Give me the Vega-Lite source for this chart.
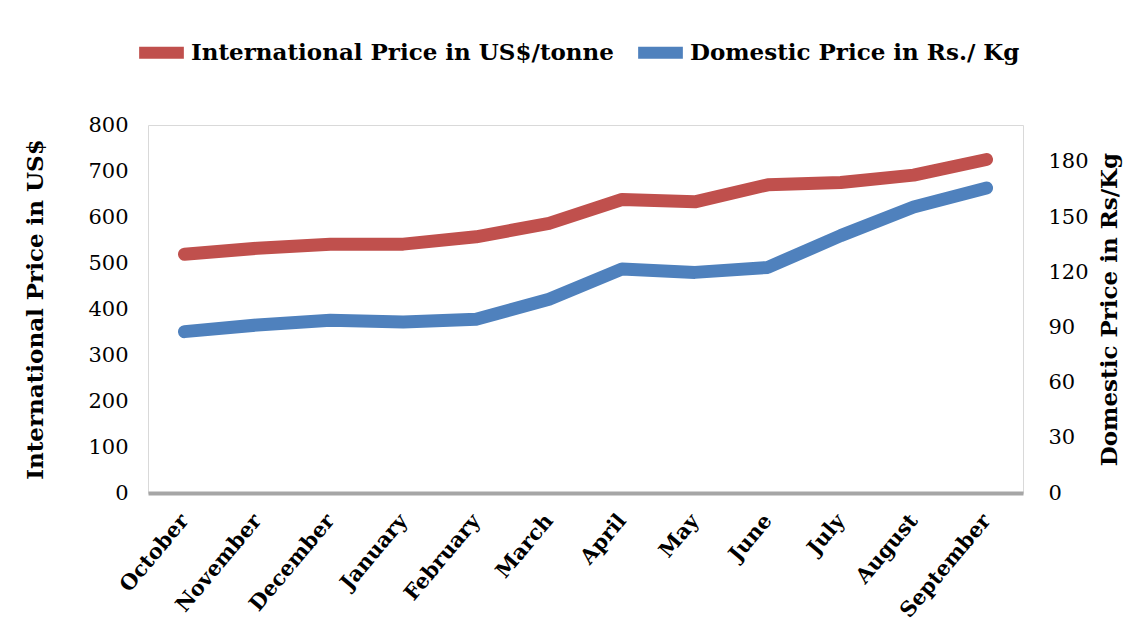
{
  "$schema": "https://vega.github.io/schema/vega-lite/v6.json",
  "autosize": {"type": "none"},
  "width": 875,
  "height": 368,
  "padding": {"left": 148, "top": 125, "right": 114, "bottom": 143},
  "background": "white",
  "config": {
    "font": "DejaVu Serif",
    "view": {"stroke": "#d9d9d9", "strokeWidth": 1}
  },
  "data": {
    "values": [
      {"month": "October", "series": "International Price in US$/tonne", "value": 519},
      {"month": "November", "series": "International Price in US$/tonne", "value": 532},
      {"month": "December", "series": "International Price in US$/tonne", "value": 541},
      {"month": "January", "series": "International Price in US$/tonne", "value": 541},
      {"month": "February", "series": "International Price in US$/tonne", "value": 557},
      {"month": "March", "series": "International Price in US$/tonne", "value": 586},
      {"month": "April", "series": "International Price in US$/tonne", "value": 638},
      {"month": "May", "series": "International Price in US$/tonne", "value": 633},
      {"month": "June", "series": "International Price in US$/tonne", "value": 670},
      {"month": "July", "series": "International Price in US$/tonne", "value": 675},
      {"month": "August", "series": "International Price in US$/tonne", "value": 691},
      {"month": "September", "series": "International Price in US$/tonne", "value": 725},
      {"month": "October", "series": "Domestic Price in Rs./ Kg", "value": 87.7},
      {"month": "November", "series": "Domestic Price in Rs./ Kg", "value": 91.3},
      {"month": "December", "series": "Domestic Price in Rs./ Kg", "value": 93.9},
      {"month": "January", "series": "Domestic Price in Rs./ Kg", "value": 93.0},
      {"month": "February", "series": "Domestic Price in Rs./ Kg", "value": 94.4},
      {"month": "March", "series": "Domestic Price in Rs./ Kg", "value": 105.3},
      {"month": "April", "series": "Domestic Price in Rs./ Kg", "value": 121.7},
      {"month": "May", "series": "Domestic Price in Rs./ Kg", "value": 119.9},
      {"month": "June", "series": "Domestic Price in Rs./ Kg", "value": 122.6},
      {"month": "July", "series": "Domestic Price in Rs./ Kg", "value": 139.9},
      {"month": "August", "series": "Domestic Price in Rs./ Kg", "value": 155.4},
      {"month": "September", "series": "Domestic Price in Rs./ Kg", "value": 165.8}
    ]
  },
  "encoding": {
    "x": {
      "field": "month",
      "type": "ordinal",
      "sort": null,
      "scale": {"type": "point", "padding": 0.5},
      "axis": {
        "title": null,
        "labelAngle": -50,
        "labelAlign": "right",
        "labelBaseline": "middle",
        "labelFont": "DejaVu Serif",
        "labelFontWeight": "bold",
        "labelFontSize": 21,
        "labelColor": "black",
        "labelPadding": 24,
        "ticks": false,
        "domainColor": "#a6a6a6",
        "domainWidth": 4
      }
    },
    "color": {
      "field": "series",
      "type": "nominal",
      "scale": {
        "domain": ["International Price in US$/tonne", "Domestic Price in Rs./ Kg"],
        "range": ["#C0504D", "#4F81BD"]
      },
      "legend": {
        "title": null,
        "orient": "none",
        "direction": "horizontal",
        "legendX": -15,
        "legendY": -101,
        "symbolType": "stroke",
        "symbolStrokeWidth": 12,
        "symbolSize": 2000,
        "labelFont": "DejaVu Serif",
        "labelFontWeight": "bold",
        "labelFontSize": 23,
        "labelColor": "black",
        "labelOffset": 1,
        "labelLimit": 600,
        "columnPadding": 0
      }
    }
  },
  "layer": [
    {
      "transform": [{"filter": "datum.series === 'International Price in US$/tonne'"}],
      "mark": {"type": "line", "strokeWidth": 13, "strokeCap": "round", "strokeJoin": "round"},
      "encoding": {
        "y": {
          "field": "value",
          "type": "quantitative",
          "scale": {"domain": [0, 800]},
          "axis": {
            "title": "International Price in US$",
            "titleFont": "DejaVu Serif",
            "titleFontWeight": "bold",
            "titleFontSize": 23,
            "titleColor": "black",
            "titlePadding": 40,
            "values": [0, 100, 200, 300, 400, 500, 600, 700, 800],
            "labelFont": "DejaVu Serif",
            "labelFontSize": 21,
            "labelColor": "black",
            "labelPadding": 20,
            "ticks": false,
            "domain": false,
            "grid": false
          }
        }
      }
    },
    {
      "transform": [{"filter": "datum.series === 'Domestic Price in Rs./ Kg'"}],
      "mark": {"type": "line", "strokeWidth": 13, "strokeCap": "round", "strokeJoin": "round"},
      "encoding": {
        "y": {
          "field": "value",
          "type": "quantitative",
          "scale": {"domain": [0, 200]},
          "axis": {
            "orient": "right",
            "title": "Domestic Price in Rs/Kg",
            "titleAngle": 270,
            "titleFont": "DejaVu Serif",
            "titleFontWeight": "bold",
            "titleFontSize": 23,
            "titleColor": "black",
            "titlePadding": 33,
            "values": [0, 30, 60, 90, 120, 150, 180],
            "labelFont": "DejaVu Serif",
            "labelFontSize": 21,
            "labelColor": "black",
            "labelPadding": 25,
            "ticks": false,
            "domain": false,
            "grid": false
          }
        }
      }
    }
  ],
  "resolve": {"scale": {"y": "independent"}}
}
